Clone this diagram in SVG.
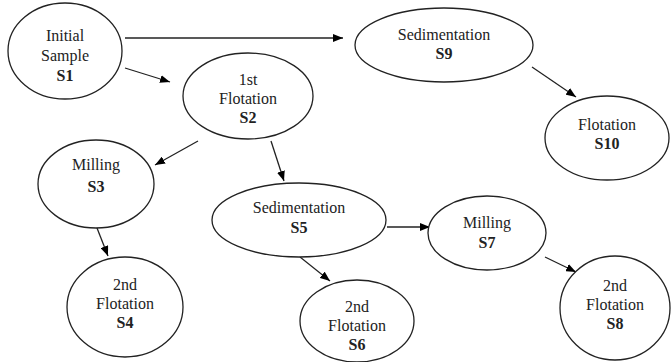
<svg xmlns="http://www.w3.org/2000/svg" width="671" height="362" viewBox="0 0 671 362">
<defs>
<marker id="ah" markerWidth="10" markerHeight="8" refX="10" refY="4" orient="auto" markerUnits="userSpaceOnUse">
<path d="M0,0 L10,4 L0,8 Z" fill="#000"/>
</marker>
<style>
.n ellipse{fill:#fff;stroke:#222;stroke-width:1.3}
.n text{font-size:16px;fill:#222;text-anchor:middle}
.n text.b{font-weight:bold}
.c line{stroke:#222;stroke-width:1.3;marker-end:url(#ah)}
</style>
</defs>
<rect width="671" height="362" fill="#fff"/>
<g class="c" id="connectors">
<line x1="125" y1="38" x2="343" y2="38"/>
<line x1="125" y1="68" x2="170" y2="82"/>
<line x1="532" y1="67" x2="576" y2="97"/>
<line x1="198" y1="141" x2="155" y2="165"/>
<line x1="271" y1="141" x2="284" y2="181"/>
<line x1="97" y1="228" x2="108" y2="256"/>
<line x1="300" y1="257" x2="330" y2="281"/>
<line x1="387" y1="227" x2="430" y2="227"/>
<line x1="545" y1="257" x2="576" y2="272"/>
</g>
<g font-family="'Liberation Serif', 'Times New Roman', 'DejaVu Serif', serif">
<g class="n" id="S1"><ellipse cx="65" cy="51" rx="57" ry="48"/><text x="65" y="41">Initial</text><text x="65" y="61">Sample</text><text class="b" x="65" y="81">S1</text></g>
<g class="n" id="S2"><ellipse cx="248" cy="96" rx="65" ry="43"/><text x="248" y="85">1st</text><text x="248" y="104">Flotation</text><text class="b" x="248" y="123">S2</text></g>
<g class="n" id="S9"><ellipse cx="444" cy="45" rx="89" ry="37"/><text x="444" y="40">Sedimentation</text><text class="b" x="444" y="59">S9</text></g>
<g class="n" id="S10"><ellipse cx="607" cy="138" rx="62" ry="42"/><text x="607" y="130">Flotation</text><text class="b" x="607" y="149">S10</text></g>
<g class="n" id="S3"><ellipse cx="96" cy="184" rx="58" ry="44"/><text x="96" y="170">Milling</text><text class="b" x="96" y="192">S3</text></g>
<g class="n" id="S5"><ellipse cx="299" cy="220" rx="87" ry="37"/><text x="299" y="213">Sedimentation</text><text class="b" x="299" y="233">S5</text></g>
<g class="n" id="S4"><ellipse cx="125" cy="307" rx="58" ry="50"/><text x="125" y="290">2nd</text><text x="125" y="309">Flotation</text><text class="b" x="125" y="328">S4</text></g>
<g class="n" id="S6"><ellipse cx="357" cy="321" rx="57" ry="41"/><text x="357" y="312">2nd</text><text x="357" y="331">Flotation</text><text class="b" x="357" y="350">S6</text></g>
<g class="n" id="S7"><ellipse cx="487" cy="233" rx="59" ry="37"/><text x="487" y="228">Milling</text><text class="b" x="487" y="248">S7</text></g>
<g class="n" id="S8"><ellipse cx="615" cy="308" rx="55" ry="52"/><text x="615" y="291">2nd</text><text x="615" y="310">Flotation</text><text class="b" x="615" y="329">S8</text></g>
</g>
</svg>
